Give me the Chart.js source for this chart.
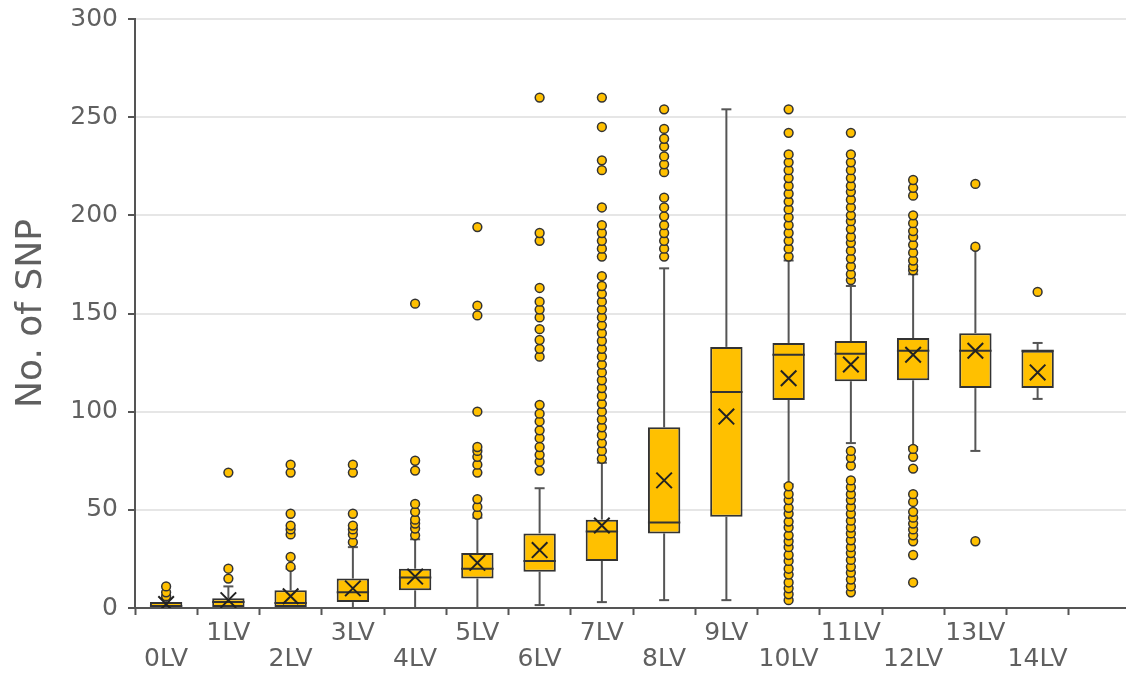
<!DOCTYPE html>
<html>
<head>
<meta charset="utf-8">
<script src="https://cdn.jsdelivr.net/npm/chart.js@4.4.1/dist/chart.umd.min.js"></script>
<style>
  html, body { margin: 0; padding: 0; background: #ffffff; overflow: hidden; }
  #wrap { width: 1144px; height: 675px; position: relative; }
  canvas { display: block; }
</style>
</head>
<body>
<div id="wrap"><canvas id="c" width="1144" height="675" style="width:1144px;height:675px"></canvas></div>
<script>
// ---- data ----
const categories = ['0LV','1LV','2LV','3LV','4LV','5LV','6LV','7LV','8LV','9LV','10LV','11LV','12LV','13LV','14LV',''];
const q1Values      = [0,   0.5, 0,   3,  9,   15, 18.5, 24, 38,  46.5, 106, 115.5, 116,   112, 112];
const medianValues  = [1,   3,   2.5, 8,  15.5,20, 24,   39, 43.5,110,  129, 129.5, 131,   131, 131];
const q3Values      = [3,   5,   9,   15, 20,  28, 38,   45, 92,  133,  135, 136,   137.5, 140, 131];
const meanValues    = [2,   4,   6,   10, 16,  23, 29.5, 42, 65,  97.5, 117, 124,   129,   131, 120];
const whiskerLow    = [0,   0,   0,   0,  0,   0,  1.5,  3,  4,   4,    63,  84,    82,    80,  106.5];
const whiskerHigh   = [5,   11,  20,  31, 35,  46, 61,   74, 173, 254,  177, 164,   170,   183, 135];
const outliers = [
  [6, 8, 11],
  [15, 20, 69],
  [21, 26, 37.5, 40, 42, 48, 69, 73],
  [33.5, 37.5, 40, 42, 48, 69, 73],
  [37, 40.5, 43, 45, 49, 53, 70, 75, 155],
  [47.5, 51.5, 55.5, 69, 73, 77, 80, 82, 100, 149, 154, 194],
  [70, 74.5, 78, 82, 86.5, 90.5, 95, 99, 103.5, 128, 132, 136.5, 142, 148, 152, 156, 163, 187, 191, 260],
  [76, 80, 84, 88, 92, 96, 100, 104, 108, 112, 116, 120, 124, 128, 132, 136, 140, 144, 148, 152, 156, 160, 164, 169, 179, 183, 187, 191, 195, 204, 223, 228, 245, 260],
  [179, 183, 187, 191, 195, 199.5, 204, 209, 222, 226, 230, 235, 239, 244, 254],
  [],
  [4, 7, 10, 13, 17, 20, 24, 27, 31, 34, 37, 41, 44, 48, 51, 55, 58, 62, 179, 183, 187, 191, 195, 199, 203, 207, 211, 215, 219, 223, 227, 231, 242, 254],
  [8, 11, 14.5, 18, 21, 24.5, 28, 31, 34.5, 38, 41, 44.5, 48, 51.5, 55, 58, 61.5, 65, 72.5, 76.5, 80, 167, 170, 174, 178, 182, 186, 189, 193, 197, 200, 204, 208, 212, 215, 219, 223, 227, 231, 242],
  [13, 27, 34, 37, 40, 43, 46, 49, 54, 58, 71, 77, 81, 172, 174, 177, 181, 185, 189, 192, 196, 200, 210, 214, 218],
  [34, 184, 216],
  [161]
];
const yTicks = [0, 50, 100, 150, 200, 250, 300];

// ---- build library data ----
const boxData = q1Values.map((q, i) => [q, q3Values[i]]);
const outlierPoints = [];
outliers.forEach((arr, i) => arr.forEach(v => outlierPoints.push({x: categories[i], y: v})));
const meanPoints = meanValues.map((v, i) => ({x: categories[i], y: v}));

const TEXT = '#606060';
const DARK = '#333333';
const GOLD = '#FFC000';

const boxParts = {
  id: 'boxParts',
  beforeDatasetsDraw(chart) {
    const ctx = chart.ctx, xs = chart.scales.x, ys = chart.scales.y;
    ctx.save();
    ctx.strokeStyle = '#555555';
    ctx.lineWidth = 2;
    q1Values.forEach((q, i) => {
      const x = xs.getPixelForValue(i);
      const segs = [[whiskerLow[i], q], [q3Values[i], whiskerHigh[i]]];
      segs.forEach(([a, b]) => {
        ctx.beginPath();
        ctx.moveTo(x, ys.getPixelForValue(a));
        ctx.lineTo(x, ys.getPixelForValue(b));
        ctx.stroke();
      });
      [whiskerLow[i], whiskerHigh[i]].forEach(v => {
        const y = ys.getPixelForValue(v);
        ctx.beginPath();
        ctx.moveTo(x - 5, y);
        ctx.lineTo(x + 5, y);
        ctx.stroke();
      });
    });
    ctx.restore();
  },
  afterDatasetDraw(chart, args) {
    if (args.index !== 0) return;
    const ctx = chart.ctx, ys = chart.scales.y;
    const meta = chart.getDatasetMeta(0);
    ctx.save();
    ctx.strokeStyle = DARK;
    ctx.lineWidth = 2;
    meta.data.forEach((bar, i) => {
      const y = ys.getPixelForValue(medianValues[i]);
      ctx.beginPath();
      ctx.moveTo(bar.x - bar.width / 2, y);
      ctx.lineTo(bar.x + bar.width / 2, y);
      ctx.stroke();
    });
    ctx.restore();
  }
};

new Chart(document.getElementById('c'), {
  type: 'bar',
  data: {
    labels: categories,
    datasets: [
      {
        type: 'bar',
        data: boxData,
        backgroundColor: GOLD,
        borderColor: DARK,
        borderWidth: 2,
        borderSkipped: false,
        categoryPercentage: 1,
        barPercentage: 0.52,
        order: 3
      },
      {
        type: 'scatter',
        data: outlierPoints,
        pointStyle: 'circle',
        pointRadius: 4.4,
        pointBackgroundColor: GOLD,
        pointBorderColor: DARK,
        pointBorderWidth: 1.5,
        order: 2
      },
      {
        type: 'scatter',
        data: meanPoints,
        pointStyle: 'crossRot',
        pointRadius: 11,
        pointBorderColor: '#222222',
        pointBorderWidth: 2,
        order: 1
      }
    ]
  },
  plugins: [boxParts],
  options: {
    responsive: false,
    animation: false,
    devicePixelRatio: 1,
    layout: { padding: { top: 19, right: 2, bottom: 0, left: 0 } },
    plugins: { legend: { display: false }, tooltip: { enabled: false } },
    scales: {
      x: {
        type: 'category',
        offset: true,
        grid: { display: true, drawOnChartArea: false, offset: true, tickLength: 7, tickColor: '#555555', tickWidth: 2 },
        border: { display: true, color: '#555555', width: 2 },
        ticks: {
          autoSkip: false,
          maxRotation: 0,
          minRotation: 0,
          padding: 5,
          color: TEXT,
          font: { family: 'DejaVu Sans', size: 25, lineHeight: 1.04 },
          callback: function(value, index) {
            const lab = categories[index];
            return index % 2 === 0 ? ['', lab] : [lab, ''];
          }
        },
        afterFit(scale) { scale.height = 67; scale.paddingLeft = 0; scale.paddingRight = 0; }
      },
      y: {
        type: 'linear',
        min: 0,
        max: 300,
        afterBuildTicks(scale) { scale.ticks = yTicks.map(v => ({ value: v })); },
        grid: { color: '#e6e6e6', lineWidth: 2, tickLength: 7, tickColor: '#555555', tickWidth: 2 },
        border: { display: true, color: '#555555', width: 2 },
        ticks: {
          padding: 10,
          color: TEXT,
          font: { family: 'DejaVu Sans', size: 25 }
        },
        title: {
          display: true,
          text: 'No. of SNP',
          color: TEXT,
          font: { family: 'DejaVu Sans', size: 36 },
          padding: { top: 10, bottom: 0 }
        },
        afterFit(scale) { scale.width = 135; scale.paddingTop = 0; scale.paddingBottom = 0; }
      }
    }
  }
});
</script>
</body>
</html>
